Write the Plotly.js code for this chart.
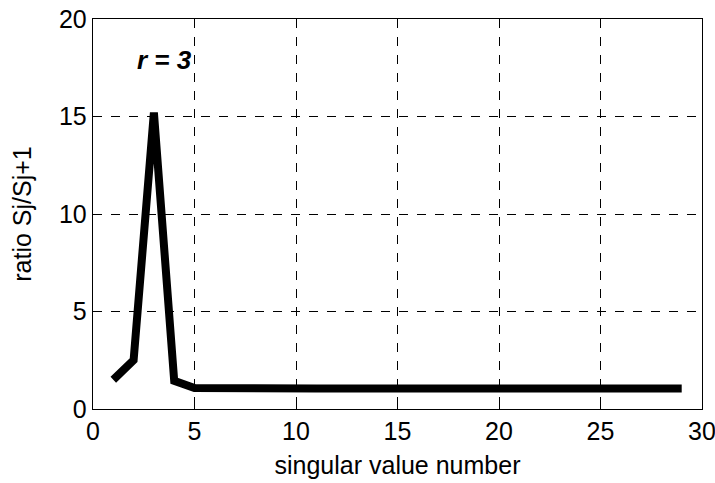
<!DOCTYPE html>
<html>
<head>
<meta charset="utf-8">
<script src="https://cdn.plot.ly/plotly-3.0.1.min.js"></script>
<style>html,body{margin:0;padding:0;background:#fff;}#chart{width:715px;height:483px;}</style>
</head>
<body>
<div id="chart"></div>
<script>
const singularNumber = [1,2,3,4,5,6,7,8,9,10,11,12,13,14,15,16,17,18,19,20,21,22,23,24,25,26,27,28,29];
const ratio = [1.5,2.5,15.2,1.45,1.08,1.06,1.05,1.05,1.05,1.05,1.05,1.05,1.05,1.05,1.05,1.05,1.05,1.05,1.05,1.05,1.05,1.05,1.05,1.05,1.05,1.05,1.05,1.05,1.05];
const xTicks = [0,5,10,15,20,25,30];
const yTicks = [0,5,10,15,20];
const annText = "r = 3";

const font = {family: "Liberation Sans, Arial, sans-serif", size: 25, color: "#000"};
const axisCommon = {
  showline: true, mirror: true, linecolor: "#000", linewidth: 1.3,
  ticks: "inside", ticklen: 5, tickcolor: "#000", tickwidth: 1,
  showgrid: true, gridcolor: "#000", griddash: "dash", gridwidth: 1,
  zeroline: false, tickfont: font, automargin: false,
  ticklabeloverflow: "allow"
};

Plotly.newPlot("chart", [{
  x: singularNumber, y: ratio, type: "scatter", mode: "lines",
  line: {color: "#000", width: 8}
}], {
  width: 715, height: 483,
  margin: {l: 93, r: 13, t: 19, b: 74},
  paper_bgcolor: "#fff", plot_bgcolor: "#fff",
  showlegend: false,
  xaxis: Object.assign({}, axisCommon, {
    range: [0, 30], tickvals: xTicks,
    title: {text: "singular value number", font: font, standoff: 12}
  }),
  yaxis: Object.assign({}, axisCommon, {
    range: [0, 20], tickvals: yTicks,
    title: {text: "ratio Sj/Sj+1", font: font, standoff: 20}
  }),
  annotations: [{
    x: 3.5, y: 17.9, xref: "x", yref: "y", text: "<b><i>" + annText + "</i></b>",
    showarrow: false, font: {family: "Liberation Sans, Arial, sans-serif", size: 26, color: "#000"}
  }]
}, {staticPlot: true});
</script>
</body>
</html>
